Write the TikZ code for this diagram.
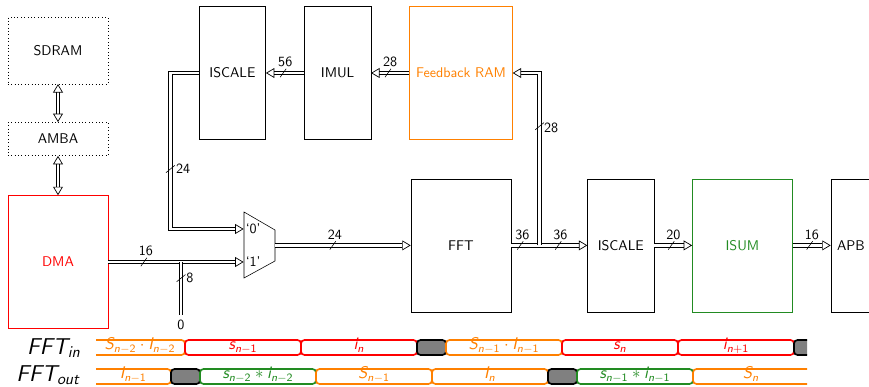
\documentclass[tikz,border=0pt]{standalone}
\usepackage{amsmath, amssymb}
\usetikzlibrary{arrows.meta}
\renewcommand{\familydefault}{\sfdefault}
\SetSymbolFont{letters}{normal}{OT1}{cmss}{m}{sl}
\SetSymbolFont{operators}{normal}{OT1}{cmss}{m}{n}
\definecolor{isumgreen}{RGB}{34,139,34}
\tikzset{
    >={Triangle[open, length=6pt, width=7pt, line width=.5pt]},
    block/.style={draw, shape=rectangle, minimum width=1.66cm, minimum height=3.325cm},
    wideblock/.style={block, minimum width=2.5cm},
    memblock/.style={draw, dotted, shape=rectangle, minimum width=2.5cm},
    bus/.style={double, double distance=2pt, line width=.75pt},
    width/.style={above=.5pt, xshift=1.5pt},
    seglabel/.style={inner sep=0pt, font=\large, text height=.245cm, text depth=.13cm},
    seg/.style={seglabel, draw, rounded corners=2.5pt, line width=1.2pt, minimum width=2.9cm},
    idle/.style={seg, fill=gray, draw=black, minimum width=.725cm},
    rowname/.style={anchor=east, inner sep=0pt, scale=1.13}
}

\begin{document}
\begin{tikzpicture}
    \useasboundingbox (0,0) rectangle (21.725,9.675);
    % memory side
    \node(SDRAM)[memblock, minimum height=1.66cm] at (1.45,8.41) {SDRAM};
    \node(AMBA)[memblock, minimum height=.83cm] at (1.45,6.2) {AMBA};
    \node(DMA)[wideblock, draw=red, text=red] at (1.45,3.125) {DMA};
    \draw[bus, <->] (SDRAM) -- (AMBA);
    \draw[bus, <->] (AMBA) -- (DMA);

    % inverse path
    \node(ISCALEi)[block] at (5.81,7.85) {ISCALE};
    \node(IMUL)[block] at (8.44,7.85) {IMUL};
    \node(RAM)[wideblock, minimum width=2.57cm, draw=orange, text=orange] at (11.525,7.85) {Feedback RAM};

    % forward path
    \node(FFT)[wideblock] at (11.525,3.54) {FFT};
    \node(ISCALEo)[block] at (15.52,3.54) {ISCALE};
    \node(ISUM)[wideblock, draw=isumgreen, text=isumgreen] at (18.56,3.54) {ISUM};
    \node(APB)[wideblock, text width=2.2cm, inner sep=.15cm, align=left] at (22.025,3.54) {APB};

    % mux
    \draw (6.1,4.375) -- (6.875,3.925) -- (6.875,3.15) -- (6.1,2.725) -- cycle;
    \coordinate(m0) at (6.09,3.95);
    \coordinate(m1) at (6.09,3.125);
    \coordinate(mout) at (6.875,3.54);
    \node(sel0)[inner sep=0pt] at (6.33,3.96) {`0'};
    \node(sel1)[inner sep=0pt] at (6.33,3.14) {`1'};

    % buses
    \coordinate(t24) at (4.26,5.45);
    \coordinate(t28) at (13.49,6.52);
    \coordinate(t8) at (4.525,2.72);
    \coordinate(j36) at (13.49,3.54);
    \coordinate(j8) at (4.525,3.125);
    \node(zero) at (4.525,1.55) {0};
    \node(w24)[inner sep=0pt] at (4.58,5.45) {24};
    \node(w28)[inner sep=0pt] at (13.78,6.47) {28};
    \node(w8)[inner sep=0pt] at (4.75,2.72) {8};

    \draw[bus, ->] (DMA.east) -- (m1) coordinate[pos=.263](t16)
        node[width, pos=.263] {16};
    \draw[bus] (j8) -- (zero.north);
    \draw[bus, ->] (ISCALEi.west) -| (t24) |- (m0);
    \draw[bus, ->] (IMUL.west) -- (ISCALEi.east) coordinate[pos=.548](t56)
        node[width, pos=.548] {56};
    \draw[bus, ->] (RAM.west) -- (IMUL.east) coordinate[pos=.558](t28r)
        node[width, pos=.558] {28};
    \draw[bus, ->] (mout) -- (FFT.west) coordinate[pos=.426](t24f)
        node[width, pos=.426] {24};
    \draw[bus, ->] (FFT.east) -- (ISCALEo.west)
        coordinate[pos=.118](t36a) node[width, pos=.118] {36}
        coordinate[pos=.618](t36b) node[width, pos=.618] {36};
    \draw[bus, ->] (j36) |- (RAM.east);
    \draw[bus, ->] (ISCALEo.east) -- (ISUM.west) coordinate[pos=.449](t20)
        node[width, pos=.449] {20};
    \draw[bus, ->] (ISUM.east) -- (APB.west) coordinate[pos=.447](t16o)
        node[width, pos=.447] {16};

    % width marks
    \foreach \t in {t16, t56, t28r, t24f, t36a, t36b, t20, t16o}
        \draw (\t) +(-.075,-.105) -- +(.075,.105);
    \foreach \t in {t24, t28, t8}
        \draw (\t) +(-.11,-.09) -- +(.11,.09);

    % timing
    \node(in)[rowname] at (2.03,.98) {\Large $FFT_{in}$};
    \node(out)[rowname] at (2.03,.3) {\Large $FFT_{out}$};
    \begin{scope}
        \clip (2.4,0) rectangle (20.175,1.5);
        \node(a0)[seg, draw=orange] at (3.175,.9875) {};
        \node(a1)[seg, draw=red, text=red] at (6.075,.9875) {$s_{n-1}$};
        \node(a2)[seg, draw=red, text=red] at (8.975,.9875) {$i_n$};
        \node(a3)[idle] at (10.7875,.9875) {};
        \node(a4)[seg, draw=orange, text=orange] at (12.6,.9875) {$S_{n-1} \cdot I_{n-1}$};
        \node(a5)[seg, draw=red, text=red] at (15.5,.9875) {$s_n$};
        \node(a6)[seg, draw=red, text=red] at (18.4,.9875) {$i_{n+1}$};
        \node(a7)[idle] at (20.2125,.9875) {};
        \node(b0)[seg, draw=orange] at (2.825,.2625) {};
        \node(b1)[idle] at (4.6375,.2625) {};
        \node(b2)[seg, draw=isumgreen, text=isumgreen] at (6.45,.2625) {$s_{n-2} * i_{n-2}$};
        \node(b3)[seg, draw=orange, text=orange] at (9.35,.2625) {$S_{n-1}$};
        \node(b4)[seg, draw=orange, text=orange] at (12.25,.2625) {$I_n$};
        \node(b5)[idle] at (14.0625,.2625) {};
        \node(b6)[seg, draw=isumgreen, text=isumgreen] at (15.875,.2625) {$s_{n-1} * i_{n-1}$};
        \node(b7)[seg, draw=orange, minimum width=3.5cm] at (19.075,.2625) {};
    \end{scope}
    \node(a0t)[seglabel, text=orange] at (3.5,.9875) {$S_{n-2} \cdot I_{n-2}$};
    \node(b0t)[seglabel, text=orange] at (3.33,.2625) {$I_{n-1}$};
    \node(b7t)[seglabel, text=orange] at (18.775,.2625) {$S_n$};
\end{tikzpicture}
\end{document}
